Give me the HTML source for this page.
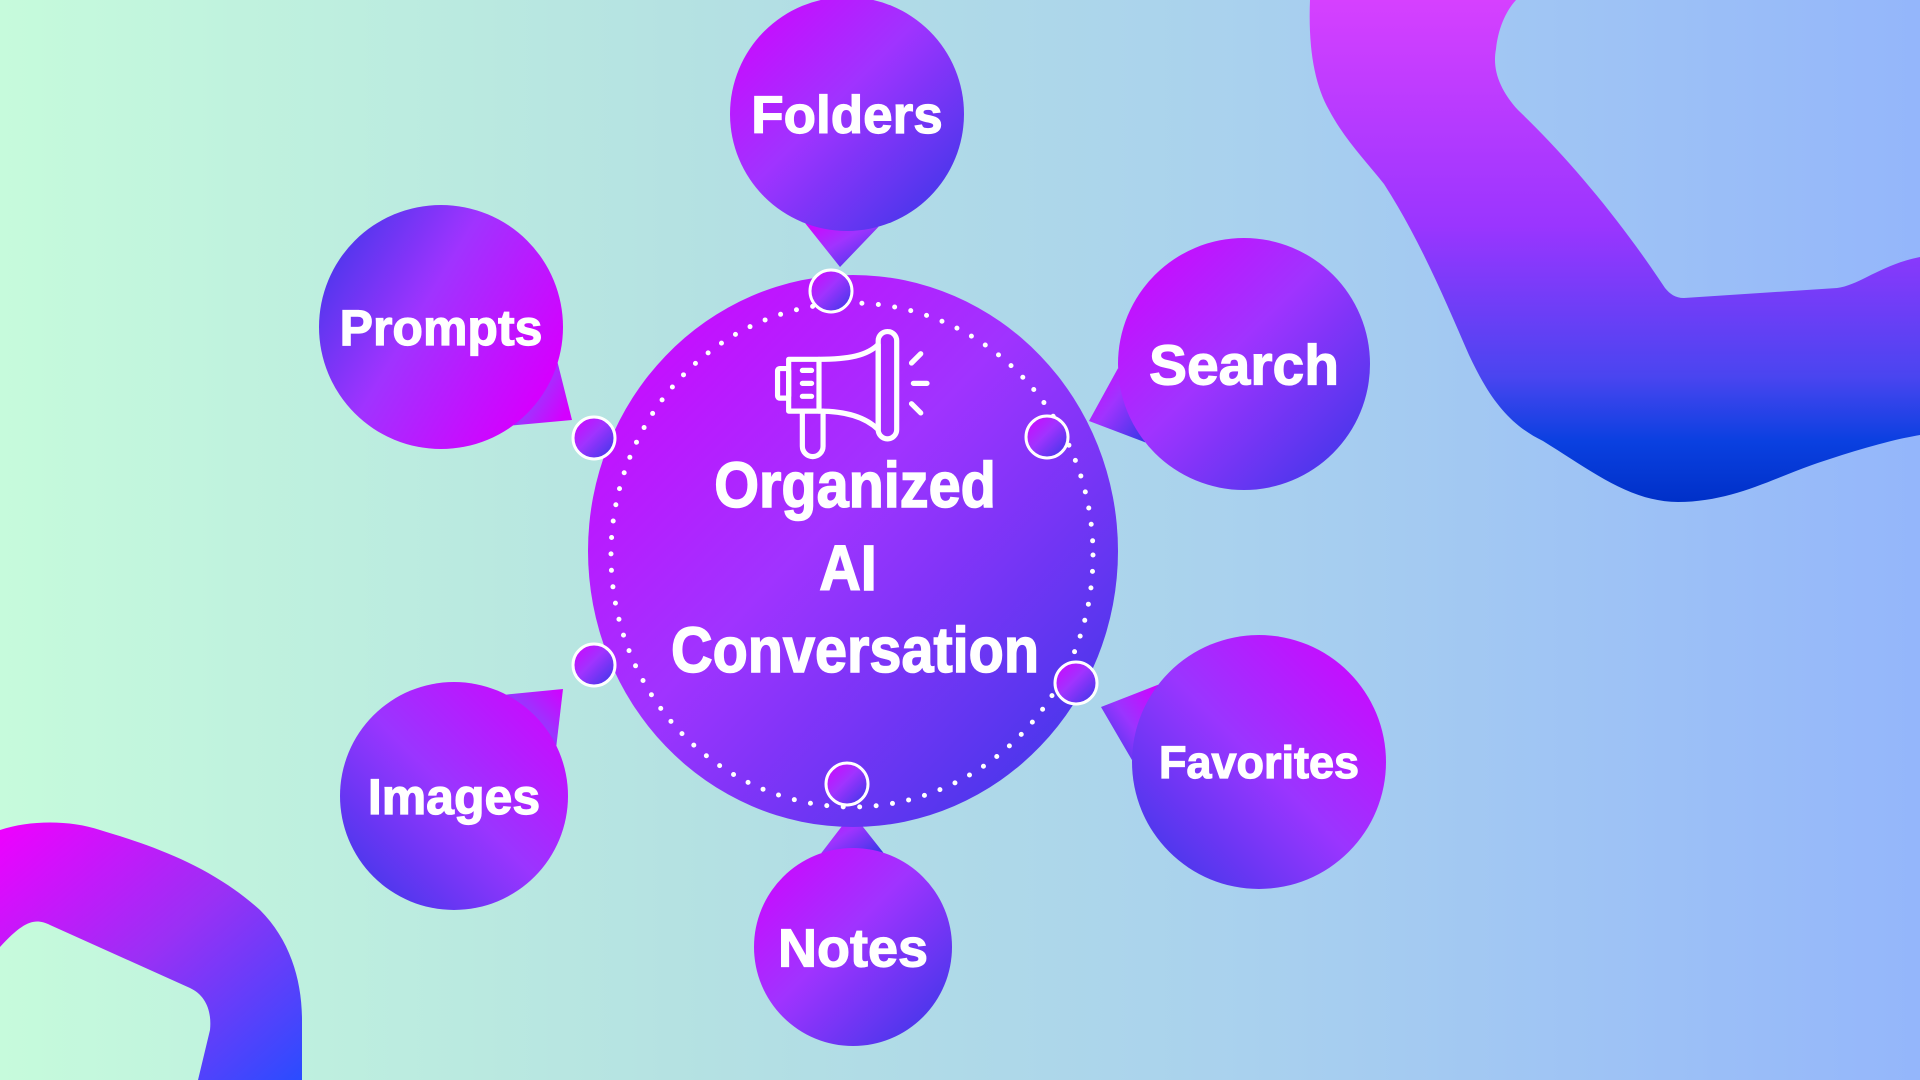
<!DOCTYPE html>
<html><head><meta charset="utf-8"><style>
html,body{margin:0;padding:0;width:1920px;height:1080px;overflow:hidden}
body{background:linear-gradient(90deg,#c6fbdc 0%,#b5e2e2 35%,#a9d1ee 65%,#94b6fb 100%)}
svg{position:absolute;left:0;top:0}
</style></head><body>
<svg width="1920" height="1080" viewBox="0 0 1920 1080" xmlns="http://www.w3.org/2000/svg">
<defs>
<linearGradient id="g1" x1="0" y1="0" x2="1" y2="1"><stop offset="0" stop-color="#d400ff"/><stop offset="0.45" stop-color="#a033ff"/><stop offset="1" stop-color="#3338e6"/></linearGradient>
<linearGradient id="g2" x1="1" y1="0" x2="0" y2="1"><stop offset="0" stop-color="#d400ff"/><stop offset="0.5" stop-color="#9a35ff"/><stop offset="1" stop-color="#3338e6"/></linearGradient>
<linearGradient id="g3" x1="0" y1="0" x2="1" y2="0.6"><stop offset="0" stop-color="#3338e6"/><stop offset="0.5" stop-color="#a033ff"/><stop offset="1" stop-color="#d400ff"/></linearGradient>
<linearGradient id="rb" x1="0" y1="0" x2="0" y2="1"><stop offset="0" stop-color="#d640ff"/><stop offset="0.45" stop-color="#9a35ff"/><stop offset="0.75" stop-color="#4a45f0"/><stop offset="0.88" stop-color="#0a40e0"/><stop offset="1" stop-color="#0030c8"/></linearGradient>
<linearGradient id="rb2" x1="0" y1="0" x2="1" y2="1"><stop offset="0" stop-color="#f000ff"/><stop offset="0.5" stop-color="#9a30f5"/><stop offset="1" stop-color="#2a4cff"/></linearGradient>
</defs>
<!-- top-right ribbon -->
<path d="M1310,0 C1308,50 1315,85 1329,110 C1345,140 1365,160 1384,184 C1420,240 1445,300 1469,355 C1490,400 1510,425 1543,441 C1590,470 1630,502 1678,502 C1730,502 1770,480 1812,465 C1850,452 1890,440 1920,435 L1920,257 C1880,265 1860,285 1837,288 L1684,298 C1675,298 1670,294 1665,288 C1620,220 1570,160 1518,110 C1500,90 1492,70 1496,49 C1498,30 1505,12 1516,0 Z" fill="url(#rb)"/>
<!-- bottom-left ribbon -->
<path d="M0,830 C30,820 70,820 100,830 C150,845 210,865 260,910 C290,940 302,980 302,1020 L302,1080 L198,1080 L210,1030 C212,1010 205,995 190,988 L50,925 C35,918 25,920 0,947 Z" fill="url(#rb2)"/>
<g id="bubbles"></g>
<!-- main circle -->
<ellipse cx="853" cy="551" rx="265" ry="276" fill="url(#g1)"/>
<ellipse cx="852" cy="555" rx="241" ry="252" fill="none" stroke="#fff" stroke-width="5" stroke-linecap="round" stroke-dasharray="0 16.5"/>
<!-- megaphone -->
<g fill="none" stroke="#fff" stroke-linejoin="round" stroke-linecap="round" transform="translate(560,252) scale(0.37)">
<rect x="588" y="315" width="30" height="80" rx="6" stroke-width="14"/>
<path d="M618,290 L700,290 C780,290 830,280 860,250 L860,480 C830,450 780,430 700,430 L618,430 Z" stroke-width="14"/>
<path d="M700,290 L700,430" stroke-width="14"/>
<rect x="860" y="215" width="50" height="290" rx="25" stroke-width="14"/>
<path d="M655,430 L655,525 A28,28 0 0 0 711,525 L711,430" stroke-width="14"/>
<path d="M655,320 L680,320 M655,355 L680,355 M655,390 L680,390" stroke-width="14"/>
<path d="M950,300 L975,275 M955,355 L992,355 M950,410 L975,435" stroke-width="14"/>
</g>
<g font-family="'Liberation Sans',sans-serif" font-weight="bold" fill="#fff" stroke="#fff" stroke-width="1.5" text-anchor="middle">
<text x="0" y="0" font-size="64" transform="translate(855,507) scale(0.9,1)">Organized</text>
<text x="0" y="0" font-size="64" transform="translate(848,590) scale(0.9,1)">AI</text>
<text x="0" y="0" font-size="64" transform="translate(855,672) scale(0.9,1)">Conversation</text>
</g>
<g id="nodes"></g>
<g id="labels" font-family="'Liberation Sans',sans-serif" font-weight="bold" fill="#fff" stroke="#fff" stroke-width="1.2" text-anchor="middle"></g>
</svg>
<script>
var NS="http://www.w3.org/2000/svg";
var B=[
 ["Folders",847,114,117,840,267,"g1",53],
 ["Prompts",441,327,122,572,420,"g3",50],
 ["Search",1244,364,126,1089,421,"g1",57],
 ["Favorites",1259,762,127,1101,707,"g2",45],
 ["Images",454,796,114,563,689,"g2",50],
 ["Notes",853,947,99,852,813,"g1",54]
];
var bg=document.getElementById("bubbles"),lg=document.getElementById("labels");
B.forEach(function(b){
 var cx=b[1],cy=b[2],r=b[3],tx=b[4],ty=b[5];
 var a=Math.atan2(ty-cy,tx-cx),d=0.32;
 var p1=[cx+r*Math.cos(a-d),cy+r*Math.sin(a-d)],p2=[cx+r*Math.cos(a+d),cy+r*Math.sin(a+d)];
 var g=document.createElementNS(NS,"g");g.setAttribute("fill","url(#"+b[6]+")");
 var c=document.createElementNS(NS,"circle");c.setAttribute("cx",cx);c.setAttribute("cy",cy);c.setAttribute("r",r);
 var p=document.createElementNS(NS,"polygon");p.setAttribute("points",p1.join(",")+" "+tx+","+ty+" "+p2.join(","));
 g.appendChild(p);g.appendChild(c);bg.appendChild(g);
 var t=document.createElementNS(NS,"text");t.setAttribute("x",cx);t.setAttribute("y",cy+b[7]*0.36);t.setAttribute("font-size",b[7]);t.textContent=b[0];lg.appendChild(t);
});
var N=[[831,291],[594,438],[1047,437],[594,665],[1076,683],[847,784]],ng=document.getElementById("nodes");
N.forEach(function(n){var c=document.createElementNS(NS,"circle");c.setAttribute("cx",n[0]);c.setAttribute("cy",n[1]);c.setAttribute("r",21);c.setAttribute("fill","url(#g1)");c.setAttribute("stroke","#fff");c.setAttribute("stroke-width","3");ng.appendChild(c);});
</script>
</body></html>
